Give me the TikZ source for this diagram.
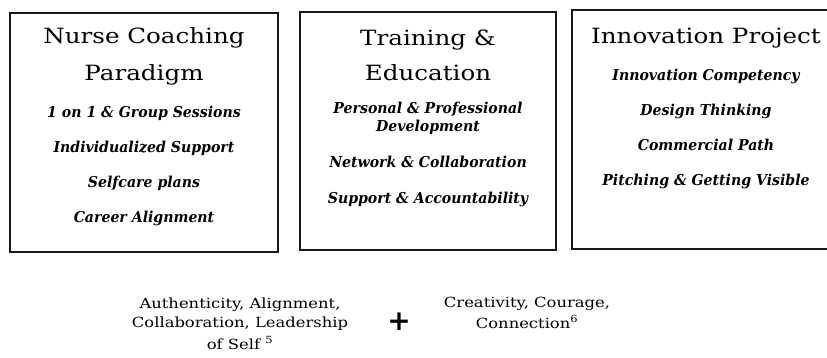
\documentclass[tikz,border=0pt]{standalone}
\usepackage{fontspec}
\setmainfont{DejaVu Serif}
\newfontfamily\widefont[FakeStretch=1.17]{DejaVu Serif}
\newfontfamily\itemfont[FakeStretch=0.94]{DejaVu Serif}
\newfontfamily\plusfont{DejaVu Sans}
\begin{document}
\begin{tikzpicture}[x=1pt,y=-1pt,
  panel/.style={draw=black!90,line width=2pt,rectangle,inner sep=0pt},
  title/.style={anchor=base,inner sep=0pt,font=\fontsize{21}{25}\selectfont\widefont},
  item/.style={anchor=base,inner sep=0pt,font=\fontsize{15}{18}\selectfont\itemfont\bfseries\itshape},
  value/.style={anchor=base,inner sep=0pt,font=\fontsize{14}{17}\selectfont\widefont}]
\useasboundingbox (0,0) rectangle (827,357);

% three panels
\node[panel,minimum width=268pt,minimum height=239pt] (coach) at (144,132) {};
\node[panel,minimum width=256pt,minimum height=238pt] (train) at (428,131) {};
\node[panel,minimum width=268pt,minimum height=239pt] (innov) at (706,129.5) {};

% Nurse Coaching Paradigm
\node[title] (coachT1) at (144,43) {Nurse Coaching};
\node[title] (coachT2) at (144,80) {Paradigm};
\node[item] (coachA) at (144,117) {1 on 1 \& Group Sessions};
\node[item] (coachB) at (144,152) {Individualized Support};
\node[item] (coachC) at (144,187) {Selfcare plans};
\node[item] (coachD) at (144,222) {Career Alignment};

% Training & Education
\node[title] (trainT1) at (428,45) {Training \&};
\node[title] (trainT2) at (428,80) {Education};
\node[item] (trainA1) at (428,113) {Personal \& Professional};
\node[item] (trainA2) at (428,131) {Development};
\node[item] (trainB) at (428,167) {Network \& Collaboration};
\node[item] (trainC) at (428,203) {Support \& Accountability};

% Innovation Project
\node[title] (innovT) at (706,43) {Innovation Project};
\node[item] (innovA) at (706,80) {Innovation Competency};
\node[item] (innovB) at (706,115) {Design Thinking};
\node[item] (innovC) at (706,150) {Commercial Path};
\node[item] (innovD) at (706,185) {Pitching \& Getting Visible};

% values below the panels
\node[value] (valL1) at (240,308) {Authenticity, Alignment,};
\node[value] (valL2) at (240,327) {Collaboration, Leadership};
\node[value] (valL3) at (240,349) {of Self \textsuperscript{5}};
\node[inner sep=0pt,font=\fontsize{28}{30}\selectfont\plusfont\bfseries] (plus) at (399,322) {+};
\node[value] (valR1) at (527,307) {Creativity, Courage,};
\node[value] (valR2) at (527,328) {Connection\textsuperscript{6}};
\end{tikzpicture}
\end{document}
